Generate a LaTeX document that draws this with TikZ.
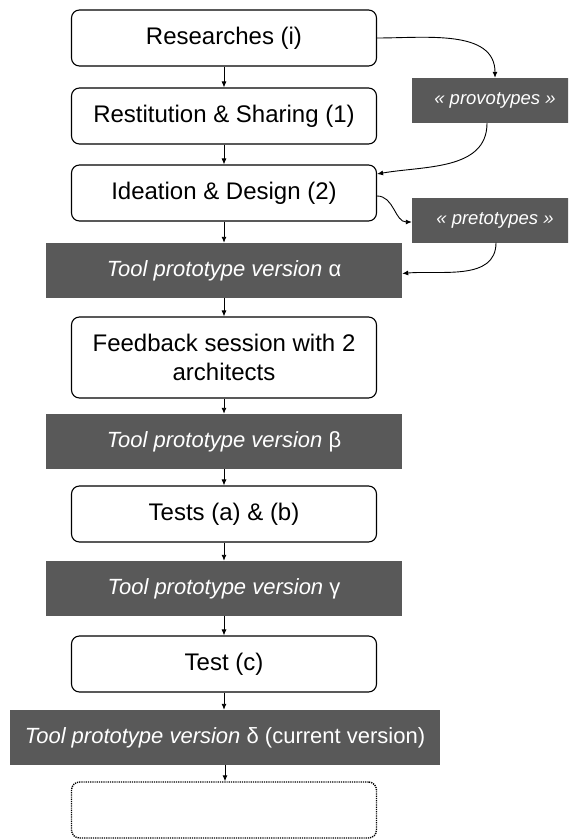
\documentclass[tikz,border=0pt]{standalone}
\usepackage{fontspec}
\setmainfont{Liberation Sans}
\usetikzlibrary{arrows.meta}
\definecolor{darkbox}{HTML}{595959}
\begin{document}
\begin{tikzpicture}[x=1pt,y=1pt,
  wbox/.style={draw, rounded corners=8pt, line width=1.1pt, minimum width=305pt, minimum height=56pt, inner sep=0pt, align=center, font=\fontsize{24}{29}\selectfont},
  dbox/.style={fill=darkbox, text=white, minimum width=356pt, minimum height=55pt, inner sep=0pt, font=\fontsize{22}{26}\selectfont},
  sbox/.style={fill=darkbox, text=white, minimum width=166pt, minimum height=45pt, inner sep=0pt, font=\fontsize{18.5}{22}\selectfont\itshape},
  endbox/.style={draw, rounded corners=8pt, line width=1.4pt, dash pattern=on 1.2pt off 1pt, minimum width=305pt, minimum height=56pt, inner sep=0pt},
  arr/.style={-{Latex[length=6pt,width=5pt]}, line width=0.9pt}]
\useasboundingbox (0,0) rectangle (568,-840);
\clip (0,0) rectangle (568,-840);

\node[wbox] (r) at (224,-38) {Researches (i)};
\node[wbox] (rs) at (224,-116) {Restitution \& Sharing (1)};
\node[wbox] (id) at (224,-193) {Ideation \& Design (2)};
\node[dbox] (a) at (224,-270.5) {\textit{Tool prototype version} α};
\node[wbox, minimum height=81pt] (fb) at (224,-357.5) {Feedback session with 2\\architects};
\node[dbox] (b) at (224,-441.5) {\textit{Tool prototype version} β};
\node[wbox] (t) at (224,-514) {Tests (a) \& (b)};
\node[dbox] (g) at (224,-588.5) {\textit{Tool prototype version} γ};
\node[wbox] (tc) at (224,-664) {Test (c)};
\node[dbox, minimum width=430pt] (d) at (225,-737.5) {\textit{Tool prototype version} δ (current version)};
\node[endbox] (e) at (224,-810) {};

\node[sbox] (pv) at (495,-100.5) {« provotypes »};
\node[sbox] (pt) at (495,-220) {« pretotypes »};

\foreach \u/\v in {r/rs, rs/id, id/a, a/fb, fb/b, b/t, t/g, g/tc, tc/d, d/e}
  \draw[arr] (\u.south) -- (\u.south |- \v.north);

\draw[arr] (r.east) to[out=0, in=90] (pv.north);
\draw[arr] ([xshift=-8pt]pv.south) to[out=-90, in=10] ([yshift=19pt]id.east);
\draw[arr] ([yshift=-3pt]id.east) to[out=0, in=180] ([yshift=-2pt]pt.west);
\draw[arr] ([xshift=1pt]pt.south) to[out=-90, in=5] ([yshift=-3pt]a.east);
\end{tikzpicture}
\end{document}
